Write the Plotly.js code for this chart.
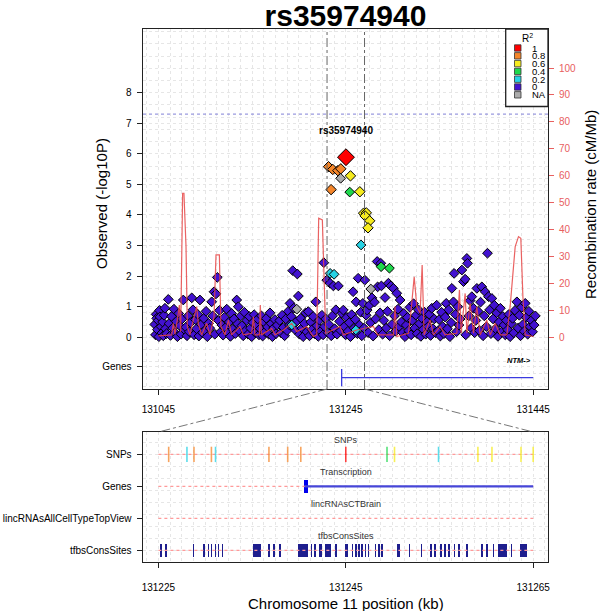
<!DOCTYPE html>
<html><head><meta charset="utf-8">
<script src="https://cdn.plot.ly/plotly-3.0.1.min.js"></script>
<style>html,body{margin:0;padding:0;background:#fff}</style>
</head><body><div id="chart" style="width:600px;height:611px"></div>
<script>
// ---------------- DATA ----------------
const chartTitle = 'rs35974940';
const leadX = [131245.2];
const leadY = [5.89];
const orangeX = [131226.6, 131231.1, 131236.5, 131239.7, 131229.3];
const orangeY = [5.58, 5.49, 5.45, 5.51, 4.83];
const yellowX = [131250.0, 131260.0, 131264.0, 131266.9, 131265.6, 131270.5, 131268.7];
const yellowY = [5.28, 4.76, 4.06, 4.07, 3.97, 3.81, 3.58];
const greenX = [131249.2, 131282.7, 131291.6];
const greenY = [4.75, 2.31, 2.26];
const cyanX = [131261.3, 131228.3, 131232.5, 131187.3, 131255.7];
const cyanY = [3.02, 2.09, 2.06, 0.40, 0.24];
const grayX = [131239.5, 131271.7, 131192.7];
const grayY = [5.20, 1.58, 0.92];
const purpleX = [
 131041.2,131041.9,131042.6,131043.2,131044.0,131044.8,131045.5,131046.3,131046.7,131047.9,131048.7,131049.5,131050.3,131051.1,131052.0,131052.6,
 131053.8,131055.6,131056.4,131057.9,131059.1,131060.3,131061.6,131062.8,131064.0,131065.3,131066.7,131067.9,131069.2,131070.4,
 131071.6,131072.9,131074.3,131075.5,131076.8,131078.1,131079.4,131080.6,131081.9,131083.2,131084.5,131085.7,131087.0,131088.2,131089.4,131090.7,131092.0,
 131093.4,131094.6,131095.9,131097.2,131098.5,131099.8,131101.9,131103.0,131104.4,131105.2,131106.5,131107.9,131109.1,131110.3,131111.6,131112.8,
 131114.1,131115.4,131116.7,131118.0,131119.3,131120.6,131121.9,131123.2,131124.5,131125.8,131127.1,131128.6,131129.5,131130.3,131131.7,131132.9,
 131134.2,131135.5,131136.8,131138.1,131139.4,131140.7,131142.0,131143.3,131144.6,131145.9,131147.2,131148.5,131149.8,131151.1,131152.4,
 131153.7,131155.0,131156.3,131157.6,131158.9,131160.2,131161.5,131162.8,131164.1,131165.4,131166.7,131168.0,131169.3,131170.6,131171.9,
 131174.5,131175.8,131177.1,131178.4,131179.7,131181.0,131182.3,131183.6,131184.9,131185.5,131186.9,131188.4,131189.5,131190.8,131192.0,131193.3,131194.4,
 131195.6,131196.9,131198.2,131199.5,131200.8,131202.1,131203.4,131205.0,131206.3,131207.6,131208.9,131210.2,131211.5,131213.0,131214.3,131215.6,131216.9,131218.2,131219.5,131220.8,131221.6,131222.4,
 131223.6,131224.7,131225.9,131227.0,131228.2,131229.5,131230.8,131231.8,131233.1,131234.4,131235.7,131237.1,131238.4,131239.7,131241.0,131242.4,
 131243.6,131244.8,131246.1,131247.4,131248.7,131250.0,131251.3,131252.8,131254.0,131255.2,131256.0,131257.3,131258.2,131259.6,131260.9,131262.1,131263.2,
 131264.4,131265.3,131266.7,131267.8,131269.0,131270.2,131271.5,131272.9,131274.2,131275.6,131276.8,131278.5,131279.0,131280.3,131281.6,131282.4,131283.0,
 131284.3,131285.6,131286.9,131288.2,131289.5,131290.5,131291.8,131293.1,131294.3,131295.8,131297.0,131298.3,131299.4,131300.7,131302.0,131303.0,
 131304.3,131305.6,131306.9,131308.2,131309.5,131310.8,131312.1,131313.4,131314.7,131316.0,131317.3,131318.6,131319.9,131321.2,131322.5,131323.8,131325.1,131326.4,131327.7,131329.0,131330.3,131331.6,131332.9,131334.2,131335.5,131336.8,131338.1,131339.4,131340.7,131342.0,
 131343.3,131344.6,131345.9,131347.2,131348.5,131349.8,131351.1,131352.2,131353.5,131354.8,131356.1,131357.4,131358.2,131359.9,131360.6,131361.9,131363.2,131364.5,131365.8,131367.1,131368.9,131370.6,131372.4,131373.0,131374.2,131374.9,131376.3,131377.6,131378.9,131379.5,131381.2,131382.5,
 131383.8,131384.9,131386.2,131387.5,131388.8,131390.2,131391.5,131392.8,131393.7,131395.0,131396.2,131397.3,131398.6,131399.9,131400.9,131402.2,131403.5,131404.8,131406.1,131407.4,131408.7,131410.0,131411.3,131412.6,131413.9,131415.2,131416.5,131417.8,131419.1,131420.4,131421.7,
 131423.0,131424.3,131425.6,131427.6,131428.9,131430.2,131431.5,131432.8,131434.1,131435.4,131436.5,131437.8,131439.1,131440.4,131441.7,131443.0,131444.3,131446.0,131447.3
];
const purpleY = [
 0.42,0.08,0.75,0.62,0.25,0.55,0.02,0.88,0.67,0.35,0.14,0.50,0.05,0.72,0.95,0.28,
 0.12,1.24,0.45,0.06,0.68,0.30,0.92,0.15,0.52,0.02,0.78,0.38,0.10,0.60,
 1.22,0.25,0.33,0.05,0.70,0.18,0.48,1.29,0.90,0.08,0.58,0.28,0.75,0.04,1.22,0.42,0.15,
 0.62,0.22,0.85,0.02,0.45,0.30,1.16,0.70,1.49,0.10,1.42,1.96,0.55,0.88,0.18,0.40,
 0.07,0.65,0.32,0.92,0.14,0.50,0.03,0.78,0.26,0.60,0.12,1.22,0.44,1.00,0.20,0.70,
 0.38,0.05,0.82,0.22,0.55,0.10,0.68,0.30,0.02,0.48,0.74,0.15,0.40,0.60,0.08,
 0.28,0.70,0.04,0.50,0.18,0.62,0.34,0.10,0.80,0.45,0.02,0.30,0.58,0.12,0.40,
 0.55,0.15,0.72,0.32,0.05,0.60,0.22,0.85,0.40,1.11,0.68,2.18,0.95,0.25,0.50,2.07,1.35,
 0.10,0.62,0.30,0.02,0.45,0.80,0.18,0.84,0.05,0.50,0.25,0.68,0.12,1.16,0.38,0.03,0.56,0.20,0.72,0.08,2.44,0.35,
 0.60,1.87,0.15,0.42,1.77,0.05,0.70,1.68,0.28,0.90,0.10,1.68,0.52,0.22,0.78,0.89,
 0.35,0.08,0.65,0.20,0.48,0.02,0.74,1.49,0.30,0.58,1.16,0.12,1.93,0.40,0.82,0.05,1.11,
 0.30,1.87,0.72,0.89,0.15,1.05,0.48,1.29,0.04,1.15,0.60,2.48,1.65,0.25,0.80,2.42,1.68,
 0.10,0.55,1.30,0.30,0.85,1.77,0.05,1.68,0.42,1.60,0.70,0.20,1.44,0.92,0.35,1.22,
 0.50,0.15,0.78,0.02,0.40,0.65,0.22,0.98,0.08,0.55,1.10,0.30,0.72,0.12,0.90,0.45,0.03,0.62,0.26,0.82,0.10,0.50,0.35,0.75,0.06,0.95,0.28,0.60,0.15,1.05,
 0.20,0.58,0.04,0.82,0.35,0.12,0.66,1.11,0.28,0.90,0.02,0.48,1.60,1.16,2.09,0.75,0.18,1.00,0.40,0.60,2.20,1.82,1.90,0.08,2.58,2.42,0.70,1.20,0.30,1.33,0.95,0.15,
 0.55,1.60,0.85,0.22,1.15,1.65,0.05,0.70,1.49,0.35,2.75,1.33,0.90,0.12,1.27,0.60,1.05,0.28,0.80,0.03,0.50,0.95,0.18,0.68,0.40,0.08,0.55,0.25,0.75,0.02,0.45,
 0.62,0.15,0.88,1.16,0.30,0.72,0.05,0.98,0.42,0.20,1.11,0.65,0.10,0.85,0.35,0.55,0.18,0.40,0.70
];
// recombination rate (cM/Mb)
const recombX = [131044.9,131059.2,131061.0,131062.7,131065.2,131067.4,131068.8,131070.9,131072.3,131074.5,131075.9,131078.7,131082.3,131085.9,131087.6,131091.2,131096.5,131100.1,131104.4,131106.5,131110.1,131111.8,131116.1,131119.7,131123.2,131132.1,131135.7,131144.6,131146.4,131148.1,131152.8,131153.8,131154.9,131165.9,131169.5,131178.4,131187.3,131192.6,131203.3,131210.4,131214.0,131216.1,131220.0,131221.8,131223.6,131238.9,131242.5,131256.7,131274.5,131278.8,131295.9,131297.6,131299.4,131311.9,131314.4,131318.0,131320.8,131324.3,131326.5,131328.6,131335.0,131338.6,131345.7,131351.0,131363.5,131366.3,131368.1,131372.4,131374.2,131377.7,131381.3,131384.8,131388.4,131395.5,131399.1,131404.4,131409.8,131416.9,131420.4,131425.8,131429.3,131431.8,131434.0,131436.5,131445.4];
const recombY = [0.5,0.9,5.2,1.2,6.4,12.0,2.1,53.5,53.5,33.7,4.0,0.9,6.4,11.4,5.2,0.9,5.2,0.9,7.7,30.6,30.6,4.0,0.9,6.4,0.9,4.0,0.9,1.5,7.7,0.9,0.9,12.0,0.9,3.3,0.9,2.7,5.2,2.1,4.0,0.3,0.9,44.2,43.6,21.3,1.5,4.0,0.9,2.7,4.0,0.9,0.9,11.4,0.3,1.5,8.9,22.5,11.4,8.9,26.8,0.9,6.4,0.9,4.0,0.9,1.5,17.6,1.5,16.3,1.5,12.6,1.5,11.4,0.9,6.4,0.9,5.2,0.9,0.9,11.4,33.7,37.4,36.8,15.1,0.9,0.3];
const sigLine = 7.3;
const yTicks = [0,1,2,3,4,5,6,7,8];
const genesTickY = -0.97;
const geneY = -1.32;
const geneName = 'NTM';
const geneStart = 131240.6, geneEnd = 131445;
const exonStart = 131240.5, exonEnd = 131241.0;
const recombTicks = [0,10,20,30,40,50,60,70,80,90,100];
const topXTicks = [131045,131245,131445];
const zoomStart = 131225, zoomEnd = 131265;
const lowXTicks = [131225,131245,131265];
// lower panel
const trackNames = ['SNPs','Genes','lincRNAsAllCellTypeTopView','tfbsConsSites'];
const trackTitles = ['SNPs','Transcription','lincRNAsCTBrain','tfbsConsSites'];
const trackRows = [4,3,2,1];
const snpPos = [131226.1,131228.05,131228.8,131230.66,131231.1,131236.8,131238.8,131240.2,131245.0,131249.4,131250.2,131254.9,131259.1,131260.6,131263.7,131265.0];
const snpCat = ['0.8','0.2','0.8','0.8','0.2','0.8','0.8','0.8','1','0.4','0.6','0.2','0.6','0.6','0.6','0.6'];
const tfbsStart = [131225.2,131225.75,131228.65,131229.8,131230.25,131230.6,131231.0,131231.35,131231.75,131235.05,131236.75,131237.25,131237.9,131239.85,131241.25,131241.65,131242.1,131242.75,131243.9,131244.95,131245.65,131246.0,131246.35,131246.65,131247.0,131247.35,131248.1,131248.45,131248.8,131250.45,131251.75,131253.0,131254.0,131254.45,131255.1,131255.5,131255.95,131256.55,131257.0,131257.85,131259.45,131259.95,131260.7,131261.25,131262.6,131263.6];
const tfbsEnd   = [131225.4,131225.95,131228.8,131229.95,131230.4,131230.75,131231.15,131231.5,131231.9,131235.9,131236.9,131237.4,131238.05,131240.95,131241.4,131241.8,131242.45,131243.4,131244.05,131245.2,131245.8,131246.15,131246.5,131246.8,131247.15,131247.5,131248.25,131248.6,131248.95,131250.8,131251.9,131253.15,131254.15,131254.6,131255.25,131255.65,131256.1,131256.7,131257.15,131258.0,131259.65,131260.2,131260.85,131262.25,131262.75,131264.3];
const r2Labels = ['1','0.8','0.6','0.4','0.2','0','NA'];
const r2Colors = ['#FF0000','#F5862A','#F6EB1E','#1ED84C','#26D2E4','#4212D0','#ABABAB'];

// ---------------- LAYOUT GEOMETRY ----------------
const W = 600, H = 611;
const mL = 143, mR = 52, mT = 29, mB = 49;
const pw = W - mL - mR, ph = H - mT - mB;
const topDom = [(562-389)/ph, 1];
const lowDom = [0, (562-432)/ph];
const topXR = [131028.6, 131460.8];
const lowXR = [131223.36, 131266.58];
const topYR = [-1.691, 10.083];
const recYR = [-19.2, 114.5];
const lowYR = [0.64, 4.70];
const px2xp = px => (px - mL)/pw;
const py2yp = py => (H - mB - py)/ph;
const colOf = c => r2Colors[r2Labels.indexOf(c)];
const FONT = 'Liberation Sans, Arial, sans-serif';

const diamond = (x,y,c,size) => ({type:'scatter',mode:'markers',x:x,y:y,xaxis:'x',yaxis:'y',hoverinfo:'skip',
  marker:{symbol:'diamond',size:size,color:c,line:{color:'#000',width:1}}});

const traces = [
  diamond(purpleX,purpleY,r2Colors[5],7.5),
  diamond(grayX,grayY,r2Colors[6],7.5),
  diamond(cyanX,cyanY,r2Colors[4],7.5),
  diamond(greenX,greenY,r2Colors[3],7.5),
  diamond(yellowX,yellowY,r2Colors[2],8),
  diamond(orangeX,orangeY,r2Colors[1],8),
  diamond(leadX,leadY,r2Colors[0],13),
  // gene in top panel
  {type:'scatter',mode:'lines',x:[geneStart,geneEnd],y:[geneY,geneY],xaxis:'x',yaxis:'y',line:{color:'#3A3ADF',width:1.3},hoverinfo:'skip'},
  {type:'scatter',mode:'lines',x:[geneStart,geneStart],y:[geneY-0.28,geneY+0.28],xaxis:'x',yaxis:'y',line:{color:'#3A3ADF',width:1.3},hoverinfo:'skip'},
  // recombination line
  {type:'scatter',mode:'lines',x:recombX,y:recombY,xaxis:'x',yaxis:'y2',line:{color:'rgba(230,70,70,0.85)',width:1.2},hoverinfo:'skip'},
];
// lower panel rows
trackRows.forEach(r => traces.push({type:'scatter',mode:'lines',x:[zoomStart,zoomEnd],y:[r,r],xaxis:'x3',yaxis:'y3',
  line:{color:'#FF9A9A',width:1.3,dash:'dot'},hoverinfo:'skip'}));
traces.push({type:'scatter',mode:'markers',x:snpPos,y:snpPos.map(()=>trackRows[0]),xaxis:'x3',yaxis:'y3',hoverinfo:'skip',
  marker:{symbol:'line-ns',size:11,opacity:0.75,line:{width:1.6,color:snpCat.map(colOf)}}});
traces.push({type:'scatter',mode:'lines',x:[geneStart,Math.min(geneEnd,zoomEnd)],y:[trackRows[1],trackRows[1]],xaxis:'x3',yaxis:'y3',
  line:{color:'#4646D8',width:2.2},hoverinfo:'skip'});
traces.push({type:'bar',x:[(exonStart+exonEnd)/2],width:[exonEnd-exonStart],base:[trackRows[1]-0.21],y:[0.42],xaxis:'x3',yaxis:'y3',
  marker:{color:'#0000EE',line:{width:0}},hoverinfo:'skip'});
traces.push({type:'bar',x:tfbsStart.map((s,i)=>(s+tfbsEnd[i])/2),width:tfbsStart.map((s,i)=>tfbsEnd[i]-s),
  base:tfbsStart.map(()=>trackRows[3]-0.2),y:tfbsStart.map(()=>0.4),xaxis:'x3',yaxis:'y3',
  marker:{color:'#1E1E8E',line:{width:0}},hoverinfo:'skip'});

const gridC = '#E6E6E6';
const axBase = {showline:true,mirror:true,linecolor:'#222',linewidth:1.4,ticks:'outside',ticklen:5,tickcolor:'#222',
  tickfont:{family:FONT,size:10,color:'#000'},zeroline:false,showgrid:true,gridcolor:gridC,griddash:'dot',gridwidth:1,fixedrange:true};

const ann = (o) => Object.assign({showarrow:false,xanchor:'center',yanchor:'middle'},o);
const annotations = [
  ann({x:leadX[0],y:leadY[0],xref:'x',yref:'y',yshift:27,text:'<b>'+chartTitle+'</b>',font:{family:FONT,size:10,color:'#000'}}),
  ann({x:geneEnd,y:geneY,xref:'x',yref:'y',yshift:17,xanchor:'right',text:'<b><i>'+geneName+'-&gt;</i></b>',font:{family:FONT,size:7.5,color:'#000'}}),
  ann({x:px2xp(101),y:py2yp(204),xref:'paper',yref:'paper',text:'Observed (-log10P)',textangle:-90,font:{family:FONT,size:15,color:'#000'}}),
  ann({x:px2xp(590),y:py2yp(205),xref:'paper',yref:'paper',text:'Recombination rate (cM/Mb)',textangle:-90,font:{family:FONT,size:15,color:'#000'}}),
  ann({x:0.5,y:py2yp(603),xref:'paper',yref:'paper',text:'Chromosome 11 position (kb)',font:{family:FONT,size:15,color:'#000'}}),
  ann({x:px2xp(527.5),y:py2yp(38),xref:'paper',yref:'paper',text:'R<sup>2</sup>',font:{family:FONT,size:10,color:'#000'}}),
];
trackTitles.forEach((t,i)=>annotations.push(ann({x:(zoomStart+zoomEnd)/2,y:trackRows[i],xref:'x3',yref:'y3',yshift:14,text:t,
  font:{family:FONT,size:9,color:'#333'}})));

const shapes = [
  {type:'line',xref:'x domain',yref:'y',x0:0,x1:1,y0:sigLine,y1:sigLine,line:{color:'#9A9AE0',width:1.2,dash:'dot'}},
  {type:'line',xref:'x',yref:'y domain',x0:zoomStart,x1:zoomStart,y0:0,y1:1,line:{color:'#666',width:1,dash:'dashdot'}},
  {type:'line',xref:'x',yref:'y domain',x0:zoomEnd,x1:zoomEnd,y0:0,y1:1,line:{color:'#666',width:1,dash:'dashdot'}},
  {type:'line',xref:'paper',yref:'paper',x0:(zoomStart-topXR[0])/(topXR[1]-topXR[0]),y0:topDom[0],x1:(zoomStart-lowXR[0])/(lowXR[1]-lowXR[0]),y1:lowDom[1],line:{color:'#777',width:1,dash:'dashdot'}},
  {type:'line',xref:'paper',yref:'paper',x0:(zoomEnd-topXR[0])/(topXR[1]-topXR[0]),y0:topDom[0],x1:(zoomEnd-lowXR[0])/(lowXR[1]-lowXR[0]),y1:lowDom[1],line:{color:'#777',width:1,dash:'dashdot'}},
  // legend box
  {type:'rect',xref:'paper',yref:'paper',x0:px2xp(505.7),x1:1,y0:py2yp(106.5),y1:1,line:{color:'#222',width:1.3},fillcolor:'#fff',layer:'above'},
];
r2Labels.forEach((l,i)=>{
  const cy = 48 + i*7.8;
  shapes.push({type:'rect',xref:'paper',yref:'paper',x0:px2xp(514.5),x1:px2xp(521),y0:py2yp(cy+3.2),y1:py2yp(cy-3.2),
    fillcolor:r2Colors[i],line:{color:'#333',width:0.8},layer:'above'});
  annotations.push(ann({x:px2xp(529.5),y:py2yp(cy),xref:'paper',yref:'paper',xanchor:'left',text:l,
    font:{family:FONT,size:9.5,color:'#000'}}));
});

const layout = {
  width:W,height:H,margin:{l:mL,r:mR,t:mT,b:mB},paper_bgcolor:'#fff',plot_bgcolor:'#fff',showlegend:false,
  title:{text:'<b>'+chartTitle+'</b>',x:0.5,xref:'paper',y:1-15/H,yref:'container',yanchor:'middle',font:{family:FONT,size:30,color:'#000'}},
  xaxis:Object.assign({},axBase,{domain:[0,1],anchor:'y',range:topXR,tickmode:'array',tickvals:topXTicks,ticktext:topXTicks.map(String),
    ticklabelstandoff:6,minor:{tickmode:'linear',tick0:131045,dtick:12.5,showgrid:true,gridcolor:gridC,griddash:'dot',ticks:''}}),
  yaxis:Object.assign({},axBase,{domain:topDom,anchor:'x',range:topYR,tickmode:'array',tickvals:yTicks.concat([genesTickY]),
    ticktext:yTicks.map(String).concat(['Genes']),ticklabelstandoff:3,
    minor:{tickmode:'linear',tick0:0,dtick:0.4,showgrid:true,gridcolor:gridC,griddash:'dot',ticks:''}}),
  yaxis2:{overlaying:'y',side:'right',anchor:'x',range:recYR,tickmode:'array',tickvals:recombTicks,showgrid:false,zeroline:false,showline:false,
    ticks:'outside',ticklen:5,tickcolor:'#E86060',tickfont:{family:FONT,size:10,color:'#E86060'},ticklabelstandoff:3,fixedrange:true},
  xaxis3:Object.assign({},axBase,{domain:[0,1],anchor:'y3',range:lowXR,tickmode:'array',tickvals:lowXTicks,ticktext:lowXTicks.map(String),
    ticklabelstandoff:11,minor:{tickmode:'linear',tick0:131225,dtick:1.25,showgrid:true,gridcolor:gridC,griddash:'dot',ticks:''}}),
  yaxis3:Object.assign({},axBase,{domain:lowDom,anchor:'x3',range:lowYR,tickmode:'array',tickvals:trackRows,ticktext:trackNames,
    ticklabelstandoff:3,showgrid:false,minor:{tickmode:'linear',tick0:0.625,dtick:0.375,showgrid:true,gridcolor:gridC,griddash:'dot',ticks:''}}),
  shapes:shapes,annotations:annotations,bargap:0
};
Plotly.newPlot('chart',traces,layout,{displayModeBar:false,staticPlot:true});
</script></body></html>
